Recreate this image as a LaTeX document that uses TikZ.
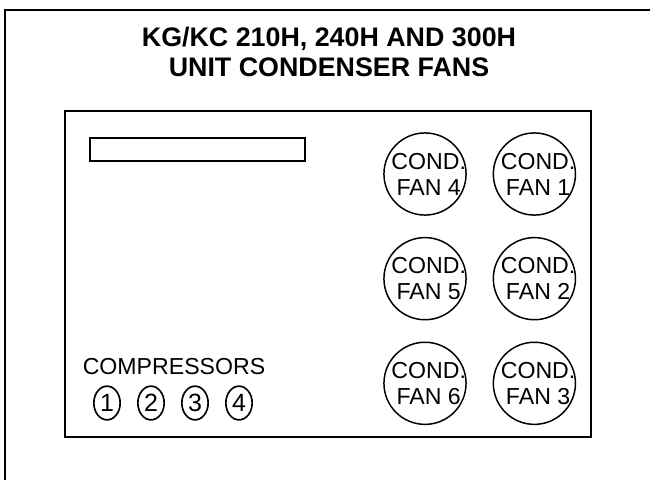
\documentclass[tikz,border=0pt]{standalone}
\usepackage{fontspec}
\setmainfont{Liberation Sans}
\usetikzlibrary{positioning,shapes.geometric}

\begin{document}
\begin{tikzpicture}[
  x=0.019cm, y=-0.019cm,
  frame/.style={draw, line width=1.6pt},
  panel/.style={draw, line width=1.1pt},
  lbl/.style={font=\fontsize{12.5}{14}\selectfont, inner sep=0pt, align=center},
  fan/.style={draw, circle, line width=0.8pt, minimum size=1.56cm, inner sep=0pt},
  comp/.style={draw, ellipse, line width=0.9pt, minimum width=0.5cm, minimum height=0.64cm, inner sep=0pt, font=\fontsize{13.5}{13.5}\selectfont}
]
\useasboundingbox (0,0) rectangle (650,480);

% outer sheet and unit panel
\draw[frame] (5,480) -- (5,10) -- (650,10);
\node[font=\bfseries\fontsize{14.5}{16.5}\selectfont, align=center] (title) at (329,52) {KG/KC 210H, 240H AND 300H\\UNIT CONDENSER FANS};
\draw[panel] (65,111) rectangle (591,437);
\draw[panel] (90,138) rectangle (305,161);

% condenser fans
\node[fan, label={[lbl, xshift=2pt]center:{COND.\\FAN 4}}] (fan4) at (425,174) {};
\node[fan, right=0.49cm of fan4, label={[lbl, xshift=2pt]center:{COND.\\FAN 1}}] (fan1) {};
\node[fan, below=0.4cm of fan4, label={[lbl, xshift=2pt]center:{COND.\\FAN 5}}] (fan5) {};
\node[fan, below=0.4cm of fan1, label={[lbl, xshift=2pt]center:{COND.\\FAN 2}}] (fan2) {};
\node[fan, below=0.4cm of fan5, label={[lbl, xshift=2pt]center:{COND.\\FAN 6}}] (fan6) {};
\node[fan, below=0.4cm of fan2, label={[lbl, xshift=2pt]center:{COND.\\FAN 3}}] (fan3) {};

% compressors
\node[lbl] (complbl) at (174,367) {COMPRESSORS};
\node[comp] (comp1) at (107,403) {1};
\node[comp] (comp2) at (151,403) {2};
\node[comp] (comp3) at (195,403) {3};
\node[comp] (comp4) at (239,403) {4};
\end{tikzpicture}
\end{document}
